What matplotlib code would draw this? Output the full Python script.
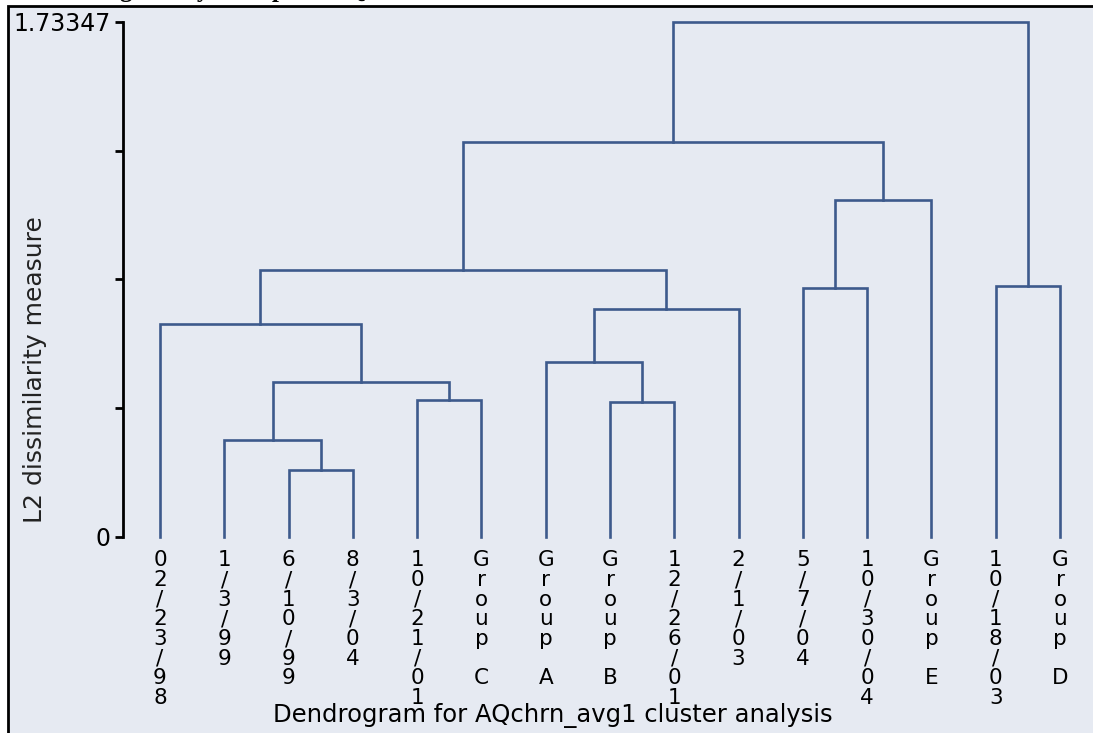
import matplotlib.pyplot as plt
from matplotlib.patches import Rectangle

# leaves in the order they are drawn
leaves = ["02/23/98", "1/3/99", "6/10/99", "8/3/04", "10/21/01", "Group C",
          "Group A", "Group B", "12/26/01", "2/1/03", "5/7/04", "10/30/04",
          "Group E", "10/18/03", "Group D"]

# merges: (left node, right node, height); new nodes numbered from 15 on
merge_left = [2, 1, 7, 4, 16, 6, 0, 20, 10, 13, 21, 23, 25, 27]
merge_right = [3, 15, 8, 5, 18, 17, 19, 9, 11, 14, 22, 12, 26, 24]
merge_height = [0.2255, 0.3265, 0.4544, 0.4611, 0.5217, 0.589, 0.7169,
                0.7674, 0.8381, 0.8448, 0.8987, 1.1343, 1.3295, 1.73347]

ymax = 1.73347
line_col = "#3d5a8c"
bg = "#e6eaf2"

fig = plt.figure(figsize=(10.93, 7.33), dpi=100)
fig.patch.set_facecolor("white")

# grey background panel with black frame (cut by the image edge)
W, H = 1093, 733
frame = Rectangle((8 / W, -20 / H), 1.2, (733 - 6 + 20) / H, transform=fig.transFigure,
                  facecolor=bg, edgecolor="black", lw=2, clip_on=False, zorder=-10)
fig.patches.append(frame)

# title mostly above the picture (cut in the original too)
fig.text(40 / W, 1.0 + 3 / H, "Dendrogram by Group for AQ",
         family="Liberation Serif", fontweight="bold", fontsize=18, va="baseline")

ax = fig.add_axes([123 / W, (H - 537) / H, (1085 - 123) / W, 515 / H])
ax.set_facecolor("none")

x0 = -(160 - 123) * 14 / 900
x1 = 14 + (1085 - 1060) * 14 / 900
ax.set_xlim(x0, x1)
ax.set_ylim(0, ymax)

xpos = {i: float(i) for i in range(len(leaves))}
hgt = {i: 0.0 for i in range(len(leaves))}
for k in range(len(merge_height)):
    a, b, h = merge_left[k], merge_right[k], merge_height[k]
    ax.plot([xpos[a], xpos[a], xpos[b], xpos[b]], [hgt[a], h, h, hgt[b]],
            color=line_col, lw=1.9, solid_capstyle="projecting",
            solid_joinstyle="miter", clip_on=False)
    node = len(leaves) + k
    xpos[node] = (xpos[a] + xpos[b]) / 2
    hgt[node] = h

# vertical stacked leaf labels
for i, lab in enumerate(leaves):
    ax.text(i, -0.045, "\n".join(lab), ha="center", va="top", fontsize=15.5,
            linespacing=0.98, family="DejaVu Sans", color="black")

for s in ["top", "right", "bottom"]:
    ax.spines[s].set_visible(False)
ax.spines["left"].set_linewidth(2)
ax.set_xticks([])
yt = [ymax * i / 4 for i in range(5)]
ax.set_yticks(yt)
ax.set_yticklabels(["0", "", "", "", "1.73347"])
ax.tick_params(axis="y", length=6, width=2, labelsize=17, pad=3)

fig.text(35 / W, (H - 370) / H, "L2 dissimilarity measure", rotation=90,
         ha="center", va="center", fontsize=18, color="#222222")
fig.text(553 / W, (H - 716) / H, "Dendrogram for AQchrn_avg1 cluster analysis",
         ha="center", va="center", fontsize=17.5)

fig.savefig("out.png", dpi=100)
